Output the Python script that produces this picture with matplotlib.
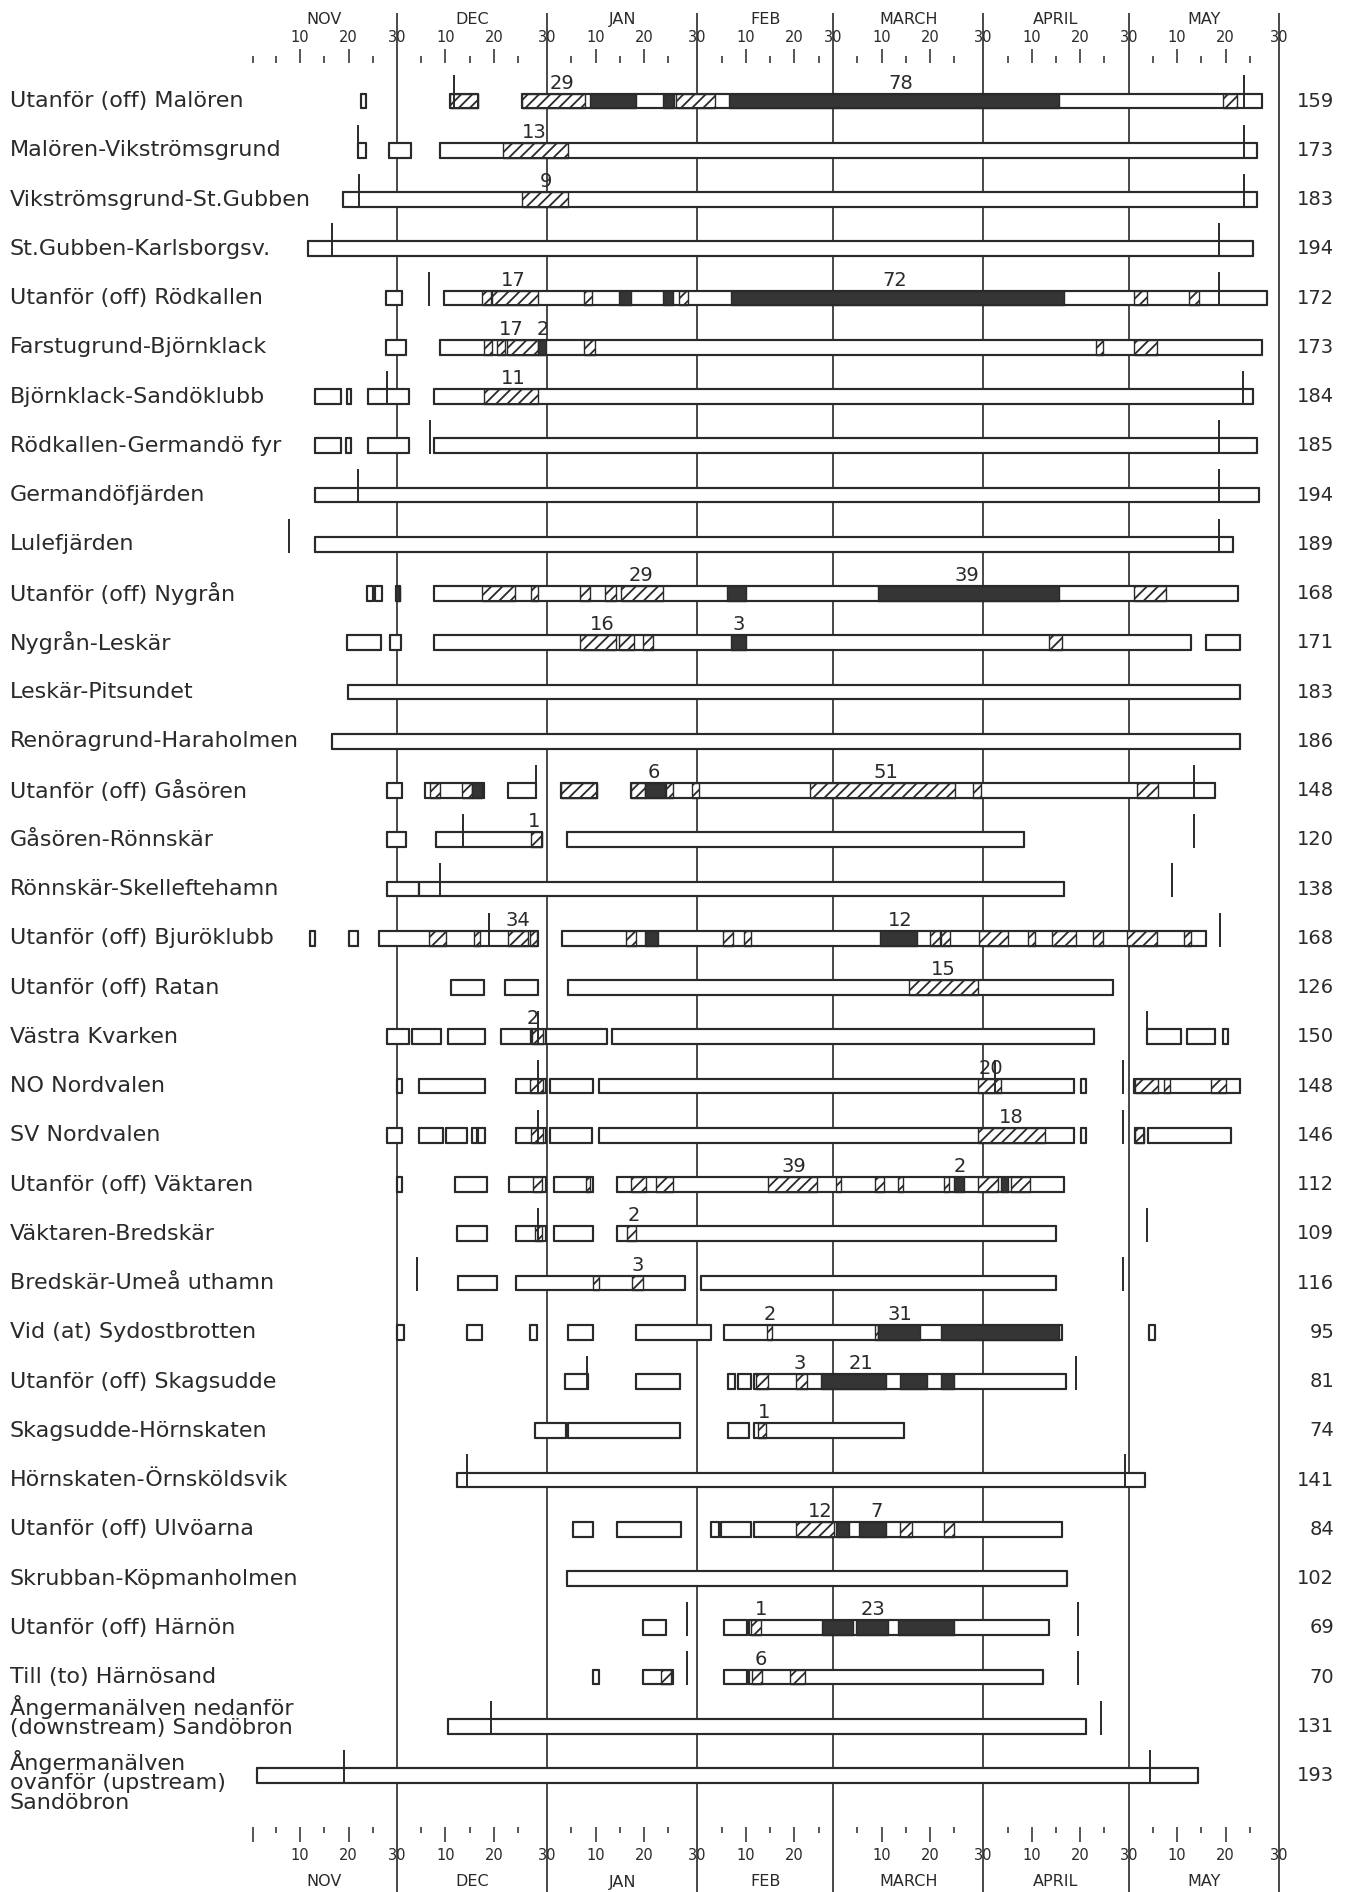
import matplotlib
matplotlib.use("Agg")
import matplotlib.pyplot as plt

# ---------------- data ----------------
months = ["NOV", "DEC", "JAN", "FEB", "MARCH", "APRIL", "MAY"]
month_len = [30, 31, 31, 28, 31, 30, 31]
bottom_30 = [True, True, True, False, True, True, True]

stations = [
    "Utanför (off) Malören", "Malören-Vikströmsgrund", "Vikströmsgrund-St.Gubben",
    "St.Gubben-Karlsborgsv.", "Utanför (off) Rödkallen", "Farstugrund-Björnklack",
    "Björnklack-Sandöklubb", "Rödkallen-Germandö fyr", "Germandöfjärden", "Lulefjärden",
    "Utanför (off) Nygrån", "Nygrån-Leskär", "Leskär-Pitsundet", "Renöragrund-Haraholmen",
    "Utanför (off) Gåsören", "Gåsören-Rönnskär", "Rönnskär-Skelleftehamn",
    "Utanför (off) Bjuröklubb", "Utanför (off) Ratan", "Västra Kvarken", "NO Nordvalen",
    "SV Nordvalen", "Utanför (off) Väktaren", "Väktaren-Bredskär", "Bredskär-Umeå uthamn",
    "Vid (at) Sydostbrotten", "Utanför (off) Skagsudde", "Skagsudde-Hörnskaten",
    "Hörnskaten-Örnsköldsvik", "Utanför (off) Ulvöarna", "Skrubban-Köpmanholmen",
    "Utanför (off) Härnön", "Till (to) Härnösand",
    "Ångermanälven nedanför\n(downstream) Sandöbron",
    "Ångermanälven\novanför (upstream)\nSandöbron",
]
totals = [159, 173, 183, 194, 172, 173, 184, 185, 194, 189, 168, 171, 183, 186, 148,
          120, 138, 168, 126, 150, 148, 146, 112, 109, 116, 95, 81, 74, 141, 84, 102,
          69, 70, 131, 193]

# days counted from 1 November (0 = start of Nov 1)
open_bars = [
    [(22.5, 23.6), (40.9, 46.8), (55.7, 208.5)],
    [(22.0, 23.6), (28.3, 32.8), (38.9, 207.5)],
    [(18.8, 207.5)],
    [(11.6, 206.7)],
    [(27.8, 31.1), (39.8, 209.5)],
    [(27.8, 31.8), (38.9, 208.5)],
    [(13.0, 18.5), (19.7, 20.6), (24.1, 32.5), (37.7, 206.7)],
    [(13.0, 18.5), (19.5, 20.6), (24.1, 32.5), (37.7, 207.5)],
    [(13.0, 207.8)],
    [(13.0, 202.5)],
    [(23.9, 25.0), (25.5, 26.9), (29.7, 30.6), (37.7, 203.6)],
    [(19.7, 26.6), (28.6, 30.8), (37.7, 193.8), (197.0, 203.9)],
    [(19.9, 203.9)],
    [(16.6, 203.9)],
    [(27.9, 31.1), (35.7, 47.9), (53.0, 58.6), (63.9, 71.2), (78.2, 198.7)],
    [(27.9, 31.8), (38.1, 60.0), (65.0, 159.3)],
    [(27.9, 34.6), (34.6, 167.6)],
    [(12.0, 13.0), (20.0, 22.0), (26.2, 59.0), (64.0, 197.0)],
    [(41.2, 47.9), (52.3, 59.0), (65.3, 177.8)],
    [(28.0, 32.5), (33.2, 39.1), (40.5, 48.2), (51.4, 57.7), (57.7, 60.7), (60.7, 73.4),
     (74.4, 173.9), (184.7, 191.7), (193.1, 198.7), (200.4, 201.5)],
    [(30.1, 31.1), (34.6, 48.2), (54.6, 60.7), (61.6, 70.5), (71.6, 169.7), (171.2, 172.2),
     (182.0, 204.0)],
    [(28.0, 31.1), (34.6, 39.5), (40.2, 44.4), (45.4, 46.5), (46.8, 48.2), (54.6, 60.7),
     (61.6, 70.2), (71.6, 169.7), (171.2, 172.2), (182.3, 184.1), (185.0, 202.2)],
    [(30.1, 31.1), (42.0, 48.6), (53.2, 60.7), (62.4, 70.5), (75.4, 167.6)],
    [(42.3, 48.6), (54.6, 60.7), (62.4, 70.5), (75.4, 165.9)],
    [(42.6, 50.7), (54.6, 89.4), (92.8, 165.9)],
    [(30.1, 31.5), (44.4, 47.5), (57.4, 58.8), (65.3, 70.5), (79.4, 94.7), (97.5, 167.3),
     (185.2, 186.4)],
    [(64.6, 69.5), (79.4, 88.4), (98.4, 99.8), (100.3, 103.0), (103.7, 168.0)],
    [(58.4, 64.9), (65.3, 88.4), (98.4, 102.6), (103.7, 134.7)],
    [(42.3, 184.3)],
    [(66.3, 70.5), (75.4, 88.7), (94.7, 96.5), (96.8, 103.0), (103.7, 167.3)],
    [(65.0, 168.3)],
    [(80.7, 85.6), (97.5, 102.3), (102.6, 164.5)],
    [(70.5, 71.6), (80.7, 87.0), (97.5, 102.3), (102.6, 163.4)],
    [(40.5, 172.2)],
    [(1.1, 195.3)],
]

hatched = [
    [(40.9, 46.8), (55.7, 68.8), (87.6, 95.7), (200.4, 203.3)],
    [(51.8, 65.3)],
    [(55.7, 65.3)],
    [],
    [(47.5, 49.3), (49.6, 59.0), (68.5, 70.2), (88.1, 90.0), (182.0, 184.7), (193.5, 195.6)],
    [(47.9, 49.6), (50.7, 52.3), (52.8, 59.0), (68.5, 70.9), (174.3, 175.7), (182.0, 186.8)],
    [(47.9, 59.0)],
    [], [], [],
    [(47.5, 54.4), (57.7, 59.0), (67.7, 69.8), (73.0, 75.1), (76.2, 84.9), (182.0, 188.7)],
    [(67.7, 75.1), (75.8, 79.0), (80.7, 82.8), (164.6, 167.3)],
    [], [],
    [(36.9, 38.9), (43.5, 45.5), (63.9, 71.2), (78.2, 81.1), (85.6, 87.0), (90.9, 92.3),
     (115.3, 145.2), (148.9, 150.5), (182.7, 187.1)],
    [(57.7, 60.0)],
    [],
    [(36.7, 40.2), (45.8, 47.2), (53.0, 57.0), (57.5, 58.8), (77.2, 79.3), (97.2, 99.3),
     (101.6, 103.0), (140.0, 142.0), (142.3, 144.2), (150.2, 156.1), (160.3, 161.7),
     (165.2, 170.1), (173.6, 175.7), (180.6, 186.8), (192.4, 193.8)],
    [(135.6, 149.8)],
    [(57.9, 60.2)],
    [(57.4, 60.2), (149.8, 154.7), (182.3, 187.1), (188.2, 189.6), (198.0, 201.1)],
    [(57.7, 60.2), (149.8, 163.8), (182.3, 184.1)],
    [(58.1, 60.0), (69.1, 69.9), (78.3, 81.4), (83.5, 87.0), (106.5, 116.6), (120.5, 121.6),
     (128.6, 130.6), (133.4, 134.5), (142.8, 144.0), (149.8, 154.0), (156.8, 160.7)],
    [(58.4, 60.0), (77.5, 79.3)],
    [(70.5, 71.6), (78.6, 80.7)],
    [(106.3, 107.4), (128.6, 129.3)],
    [(104.0, 106.5), (112.4, 114.6)],
    [(104.4, 106.2)],
    [],
    [(112.4, 120.2), (133.8, 136.2), (142.8, 144.9)],
    [],
    [(103.0, 105.1)],
    [(84.5, 86.6), (103.3, 105.4), (111.0, 114.2)],
    [], [],
]

filled = [
    [(69.8, 79.3), (84.9, 87.2), (98.6, 166.6)],
    [], [], [],
    [(75.8, 78.3), (84.9, 87.0), (98.9, 167.6)],
    [(59.0, 60.7)],
    [], [], [], [],
    [(29.7, 30.6), (98.2, 102.1), (129.2, 166.6)],
    [(98.9, 102.1)],
    [], [],
    [(45.5, 47.6), (81.1, 85.3)],
    [], [],
    [(81.1, 83.9), (129.6, 137.3)],
    [], [], [], [],
    [(144.9, 147.0), (154.7, 156.1)],
    [], [],
    [(129.3, 138.0), (142.2, 166.6)],
    [(117.4, 131.0), (133.8, 139.4), (142.2, 144.9)],
    [], [],
    [(120.5, 123.3), (125.4, 131.0)],
    [],
    [(117.7, 124.0), (124.7, 131.4), (133.4, 144.9)],
    [], [], [],
]

markers = [
    [41.7, 204.7], [22.0, 204.7], [22.2, 204.7], [16.6, 199.6], [36.7, 199.6],
    [], [28.0, 204.6], [36.8, 199.6], [22.0, 199.6], [7.7, 199.6],
    [], [], [], [],
    [58.6, 194.5], [43.7, 194.5], [38.9, 190.0], [48.9, 199.8], [],
    [59.0, 184.7], [59.0, 153.5, 179.9], [59.0, 179.9], [], [59.0, 184.7], [34.2, 179.9],
    [], [69.2, 170.1], [], [44.4, 180.3], [], [], [89.8, 170.5], [89.8, 170.5],
    [49.4, 175.3], [19.1, 185.4],
]

numbers = [
    [(64.0, "29"), (134.0, "78")], [(58.3, "13")], [(60.7, "9")], [],
    [(53.9, "17"), (132.8, "72")], [(53.5, "17"), (60.0, "2")], [(53.9, "11")], [], [], [],
    [(80.3, "29"), (147.7, "39")], [(72.3, "16"), (100.5, "3")], [], [],
    [(83.1, "6"), (131.0, "51")], [(58.3, "1")], [], [(55.0, "34"), (133.8, "12")],
    [(142.8, "15")], [(58.0, "2")], [(152.6, "20")], [(156.8, "18")],
    [(111.8, "39"), (146.1, "2")], [(78.9, "2")], [(79.6, "3")],
    [(107.0, "2"), (133.8, "31")], [(113.2, "3"), (125.8, "21")], [(105.8, "1")], [],
    [(117.3, "12"), (128.9, "7")], [], [(105.1, "1"), (128.2, "23")], [(105.1, "6")],
    [], [],
]

# ---------------- layout ----------------
W, H, DPI = 1359, 1892, 100
X0, PPD = 251.6, 4.846      # pixel of day 0, pixels per day
Y0, RS = 101.0, 49.25       # pixel of first row, pixels per row

INK = "#2a2a2a"
plt.rcParams["hatch.linewidth"] = 1.3
plt.rcParams["font.family"] = ["DejaVu Sans"]

fig = plt.figure(figsize=(W / DPI, H / DPI), dpi=DPI, facecolor="white")
ax = fig.add_axes([0, 0, 1, 1])
ax.set_xlim(-X0 / PPD, (W - X0) / PPD)
ax.set_ylim((H - Y0) / RS, -Y0 / RS)
ax.axis("off")


def ypx(p):
    return (p - Y0) / RS


starts = [0]
for n in month_len:
    starts.append(starts[-1] + n)

# month separator lines
ax.vlines(starts[1:], ypx(13), ypx(H), color=INK, lw=1.2, zorder=1)

# header / footer scales
for i, (name, n) in enumerate(zip(months, month_len)):
    s = starts[i]
    mid = s + n / 2
    ax.text(mid, ypx(19), name, ha="center", va="center", fontsize=11.5, color=INK)
    ax.text(mid, ypx(1882), name, ha="center", va="center", fontsize=11.5, color=INK)
    for k in (10, 20):
        ax.text(s + k, ypx(37), str(k), ha="center", va="center", fontsize=10.5, color=INK)
        ax.text(s + k, ypx(1855), str(k), ha="center", va="center", fontsize=10.5, color=INK)
    ax.text(s + n, ypx(37), "30", ha="center", va="center", fontsize=10.5, color=INK)
    if bottom_30[i]:
        ax.text(s + n, ypx(1855), "30", ha="center", va="center", fontsize=10.5, color=INK)
    longs = [s + 10, s + 20]
    shorts = [s + 5, s + 15, s + 25]
    ax.vlines(longs, ypx(49), ypx(63), color=INK, lw=1.1)
    ax.vlines(shorts, ypx(56), ypx(63), color=INK, lw=1.1)
    ax.vlines(longs, ypx(1827), ypx(1842), color=INK, lw=1.1)
    ax.vlines(shorts, ypx(1827), ypx(1833), color=INK, lw=1.1)
ax.vlines([0.3], ypx(56), ypx(63), color=INK, lw=1.1)
ax.vlines([0.3], ypx(1827), ypx(1842), color=INK, lw=1.1)

BH = 0.30
for r in range(len(stations)):
    y = r
    ax.broken_barh([(a, b - a) for a, b in open_bars[r]], (y - BH / 2, BH),
                   facecolors="white", edgecolor=INK, lw=1.5, zorder=3)
    if hatched[r]:
        ax.broken_barh([(a, b - a) for a, b in hatched[r]], (y - BH / 2, BH),
                       facecolors="white", edgecolor=INK, lw=1.0, hatch="///", zorder=4)
    if filled[r]:
        ax.broken_barh([(a, b - a) for a, b in filled[r]], (y - BH / 2, BH),
                       facecolors="#353535", edgecolor=INK, lw=1.0, zorder=4)
    # redraw outline of open bars on top
    ax.broken_barh([(a, b - a) for a, b in open_bars[r]], (y - BH / 2, BH),
                   facecolors="none", edgecolor=INK, lw=1.5, zorder=5)
    if markers[r]:
        ax.vlines(markers[r], y - 0.52, y + 0.17, color=INK, lw=1.4, zorder=6)
    for d, t in numbers[r]:
        ax.text(d, y - BH / 2 - 0.02, t, ha="center", va="bottom", fontsize=14,
                color=INK, zorder=7)
    # station label
    lbl = stations[r]
    nl = lbl.count("\n")
    if nl == 0:
        ly = y
    elif nl == 1:
        ly = y - 0.2
    else:
        ly = y + 0.12
    ax.text(-49.9, ly, lbl, ha="left", va="center", fontsize=16, color=INK,
            linespacing=0.95)
    ax.text(223.4, y, str(totals[r]), ha="right", va="center", fontsize=14, color=INK)

fig.savefig("out.png", dpi=DPI, facecolor="white")
